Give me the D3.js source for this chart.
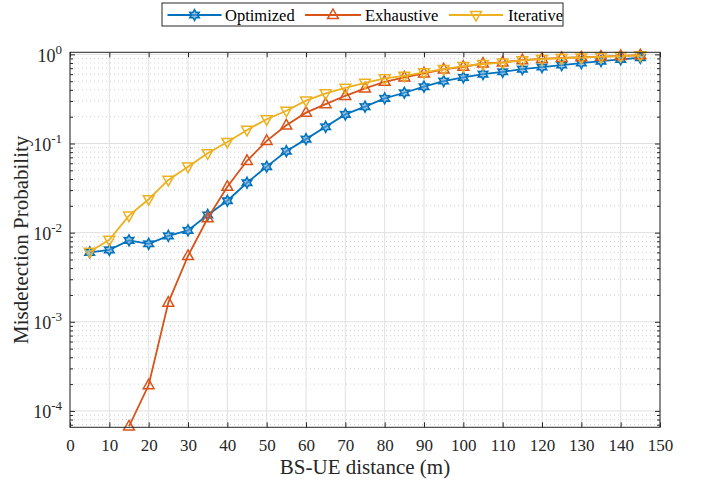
<!DOCTYPE html>
<html><head><meta charset="utf-8">
<script src="https://cdn.jsdelivr.net/npm/d3@7"></script>
<style>
body{margin:0;background:#fff;}
svg{display:block;font-family:"Liberation Serif","Times New Roman",serif;}
</style></head>
<body><svg id="c" width="701" height="482"></svg>
<script>
const distance = [5,10,15,20,25,30,35,40,45,50,55,60,65,70,75,80,85,90,95,100,105,110,115,120,125,130,135,140,145];
const optimized = [6.0e-3,6.4e-3,8.2e-3,7.5e-3,9.2e-3,1.06e-2,1.58e-2,2.28e-2,3.63e-2,5.5e-2,8.2e-2,0.112,0.154,0.212,0.259,0.321,0.371,0.434,0.502,0.552,0.600,0.638,0.684,0.721,0.759,0.799,0.841,0.879,0.916];
const exhaustive = [null,null,6.7e-5,1.95e-4,1.64e-3,5.48e-3,1.45e-2,3.28e-2,6.4e-2,0.107,0.160,0.222,0.277,0.343,0.416,0.493,0.552,0.612,0.679,0.726,0.790,0.815,0.860,0.890,0.913,0.928,0.943,0.960,0.978];
const iterative = [6.1e-3,8.3e-3,1.55e-2,2.37e-2,3.9e-2,5.5e-2,7.77e-2,0.104,0.142,0.187,0.233,0.303,0.365,0.420,0.480,0.538,0.575,0.628,0.684,0.740,0.780,0.810,0.855,0.884,0.908,0.922,0.938,0.955,0.972];
const seriesNames = ["Optimized","Exhaustive","Iterative"];
const xTicks = [0,10,20,30,40,50,60,70,80,90,100,110,120,130,140,150];
const yExponents = [0,-1,-2,-3,-4];

const colors = ["#0072BD","#D95319","#EDB120"];
const markers = ["hexagram","up","down"];
const series = [optimized, exhaustive, iterative];

const svg = d3.select("#c");
const L=70, R=660, T=52.3, B=427.3;
const x = d3.scaleLinear().domain([0,150]).range([L,R]);
const y = d3.scaleLog().domain([6.55e-5,1.055]).range([B,T]);
const axisColor="#262626";

// grid
const g = svg.append("g");
const minorVals=[];
for(let e=-5;e<=0;e++){for(let m=2;m<=9;m++){const v=m*Math.pow(10,e); if(v>=6.55e-5&&v<=1.055) minorVals.push(v);}}
g.selectAll(".mg").data(minorVals).enter().append("line")
 .attr("x1",L).attr("x2",R).attr("y1",d=>y(d)).attr("y2",d=>y(d))
 .attr("stroke","#d0d0d0").attr("stroke-width",1).attr("stroke-dasharray","1,3");
const majorY = yExponents.map(e=>Math.pow(10,e));
g.selectAll(".Mg").data(majorY).enter().append("line")
 .attr("x1",L).attr("x2",R).attr("y1",d=>y(d)).attr("y2",d=>y(d))
 .attr("stroke","#e0e0e0").attr("stroke-width",1);
g.selectAll(".xg").data(xTicks).enter().append("line")
 .attr("x1",d=>x(d)).attr("x2",d=>x(d)).attr("y1",T).attr("y2",B)
 .attr("stroke","#e0e0e0").attr("stroke-width",1);

const line = d3.line().defined(d=>d.v!=null).x(d=>x(d.x)).y(d=>y(d.v));
function hexagram(r){
  const pts=[];
  for(let i=0;i<12;i++){
    const a=-Math.PI/2+i*Math.PI/6;
    const rr = (i%2===0)?r:r*0.55;
    pts.push([rr*Math.cos(a),rr*Math.sin(a)]);
  }
  return "M"+pts.map(p=>p[0].toFixed(2)+","+p[1].toFixed(2)).join("L")+"Z";
}
function tri(r,up){
  const s = up?1:-1;
  return `M0,${-s*r}L${r*0.9},${s*r*0.6}L${-r*0.9},${s*r*0.6}Z`;
}
function markerPath(t){
  if(t==="hexagram") return hexagram(5.5);
  if(t==="up") return tri(6,true);
  return tri(6,false);
}
const plot = svg.append("g");
series.forEach((s,i)=>{
  const data = distance.map((d,j)=>({x:d,v:s[j]}));
  plot.append("path").datum(data).attr("d",line).attr("fill","none")
    .attr("stroke",colors[i]).attr("stroke-width",1.8);
  plot.selectAll(".m"+i).data(data.filter(d=>d.v!=null)).enter().append("path")
    .attr("class","m"+i)
    .attr("transform",d=>`translate(${x(d.x)},${y(d.v)})`)
    .attr("d",markerPath(markers[i]))
    .attr("fill",i===0?"#5fa0d6":"none").attr("fill-opacity",i===0?0.6:1)
    .attr("stroke",colors[i]).attr("stroke-width",1.5);
});

// axes: box with inside ticks
const ax = svg.append("g");
ax.append("rect").attr("x",L).attr("y",T).attr("width",R-L).attr("height",B-T)
  .attr("fill","none").attr("stroke",axisColor).attr("stroke-width",1);
const xa = d3.axisBottom(x).tickValues(xTicks).tickSize(-5).tickPadding(12).tickFormat(d3.format("d"));
const xg = ax.append("g").attr("transform",`translate(0,${B})`).call(xa);
ax.append("g").attr("transform",`translate(0,${T})`).call(d3.axisTop(x).tickValues(xTicks).tickSize(-5).tickFormat(""));
const ya = d3.axisLeft(y).tickValues(majorY).tickSize(-5).tickPadding(8).tickFormat("");
const yg = ax.append("g").attr("transform",`translate(${L},0)`).call(ya);
ax.append("g").attr("transform",`translate(${R},0)`).call(d3.axisRight(y).tickValues(majorY).tickSize(-5).tickFormat(""));
ax.append("g").attr("transform",`translate(${L},0)`).call(d3.axisLeft(y).tickValues(minorVals).tickSize(-3).tickFormat(""));
ax.append("g").attr("transform",`translate(${R},0)`).call(d3.axisRight(y).tickValues(minorVals).tickSize(-3).tickFormat(""));
ax.selectAll(".domain").remove();
ax.selectAll(".tick line").attr("stroke",axisColor);
xg.selectAll("text").attr("font-size",17).attr("fill",axisColor).attr("font-family","Liberation Serif");
yg.selectAll(".tick").each(function(d){
  const t = d3.select(this).select("text");
  t.text(null).attr("font-size",18).attr("fill",axisColor).attr("font-family","Liberation Serif")
   .attr("x",-8).attr("dy","0.38em").attr("text-anchor","end");
  t.append("tspan").text("10");
  t.append("tspan").attr("font-size",13).attr("dy","-0.62em").text(String(Math.round(Math.log10(d))));
});

// axis titles
svg.append("text").attr("x",(L+R)/2).attr("y",474).attr("text-anchor","middle")
  .attr("font-size",21).attr("fill",axisColor).text("BS-UE distance (m)");
svg.append("text").attr("transform",`translate(28,${(T+B)/2}) rotate(-90)`).attr("text-anchor","middle")
  .attr("font-size",21).attr("fill",axisColor).text("Misdetection Probability");

// legend
const lg = svg.append("g");
lg.append("rect").attr("x",162).attr("y",3).attr("width",401).attr("height",23)
  .attr("fill","#fff").attr("stroke",axisColor).attr("stroke-width",1);
const legItems = [
  {x1:167.5,x2:221.5,tx:225},
  {x1:305,x2:361,tx:365},
  {x1:449,x2:503,tx:508}
];
legItems.forEach((it,i)=>{
  const cy=15;
  lg.append("line").attr("x1",it.x1).attr("x2",it.x2).attr("y1",cy).attr("y2",cy)
    .attr("stroke",colors[i]).attr("stroke-width",1.8);
  lg.append("path").attr("transform",`translate(${(it.x1+it.x2)/2},${cy})`)
    .attr("d",markerPath(markers[i]))
    .attr("fill",i===0?"#5fa0d6":"none").attr("fill-opacity",i===0?0.6:1)
    .attr("stroke",colors[i]).attr("stroke-width",1.5);
  lg.append("text").attr("x",it.tx).attr("y",cy).attr("dy","0.35em")
    .attr("font-size",16.5).attr("fill","#000").text(seriesNames[i]);
});
</script></body></html>
